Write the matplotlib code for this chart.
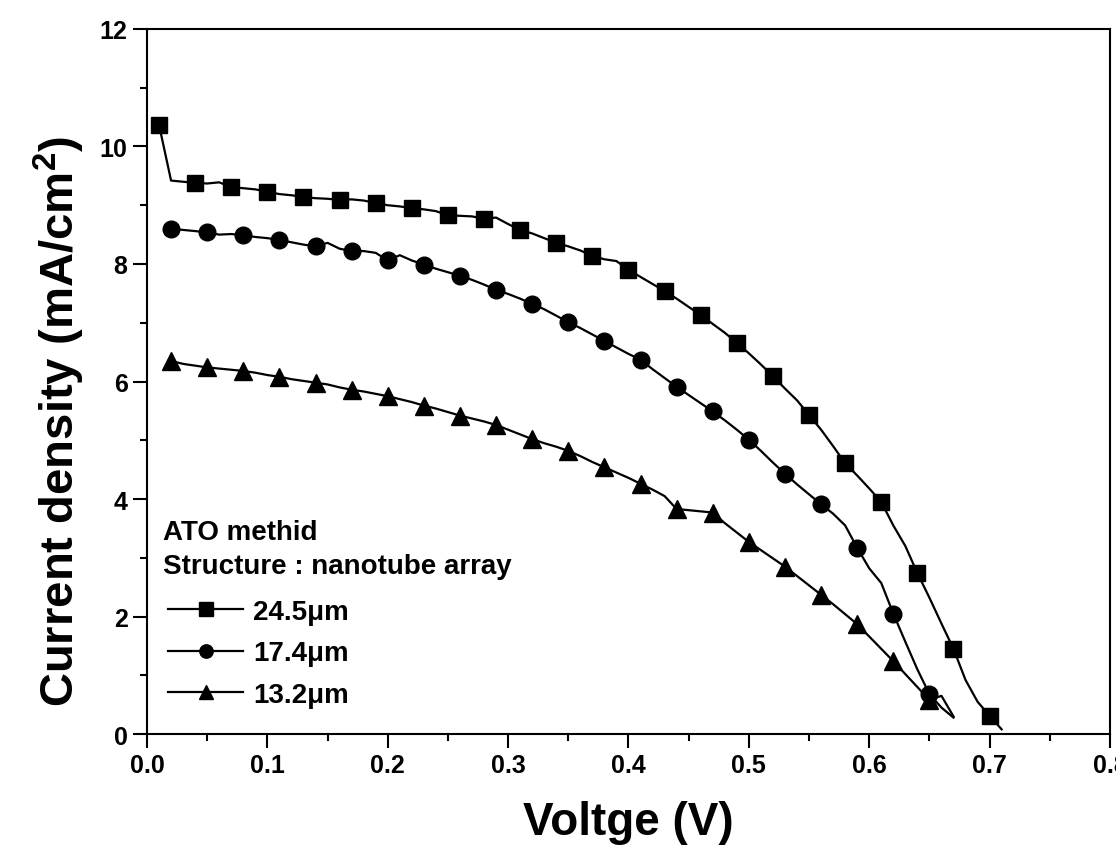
import matplotlib
matplotlib.use("Agg")
import matplotlib.pyplot as plt
from matplotlib.ticker import MultipleLocator, FormatStrFormatter

plt.rcParams['font.family'] = ['Liberation Sans', 'DejaVu Sans']
plt.rcParams['font.weight'] = 'bold'
plt.rcParams['mathtext.fontset'] = 'custom'
plt.rcParams['mathtext.rm'] = 'Liberation Sans:bold'
plt.rcParams['mathtext.bf'] = 'Liberation Sans:bold'
plt.rcParams['mathtext.default'] = 'bf'

# 24.5 um series (0.01 V step)
V_a = [0.01, 0.02, 0.03, 0.04, 0.05, 0.06, 0.07, 0.08, 0.09, 0.10,
       0.11, 0.12, 0.13, 0.14, 0.15, 0.16, 0.17, 0.18, 0.19, 0.20,
       0.21, 0.22, 0.23, 0.24, 0.25, 0.26, 0.27, 0.28, 0.29, 0.30,
       0.31, 0.32, 0.33, 0.34, 0.35, 0.36, 0.37, 0.38, 0.39, 0.40,
       0.41, 0.42, 0.43, 0.44, 0.45, 0.46, 0.47, 0.48, 0.49, 0.50,
       0.51, 0.52, 0.53, 0.54, 0.55, 0.56, 0.57, 0.58, 0.59, 0.60,
       0.61, 0.62, 0.63, 0.64, 0.65, 0.66, 0.67, 0.68, 0.69, 0.70, 0.71]
J_a = [10.37, 9.42, 9.40, 9.38, 9.37, 9.39, 9.31, 9.29, 9.27, 9.23,
       9.19, 9.17, 9.14, 9.12, 9.11, 9.09, 9.10, 9.08, 9.04, 9.00,
       8.98, 8.95, 8.93, 8.90, 8.83, 8.82, 8.81, 8.77, 8.79, 8.68,
       8.58, 8.52, 8.44, 8.36, 8.30, 8.23, 8.14, 8.08, 8.05, 7.90,
       7.78, 7.66, 7.54, 7.41, 7.27, 7.13, 6.98, 6.83, 6.66, 6.48,
       6.29, 6.09, 5.88, 5.68, 5.43, 5.18, 4.90, 4.61, 4.40, 4.18,
       3.95, 3.55, 3.20, 2.74, 2.32, 1.88, 1.45, 0.92, 0.55, 0.31, 0.08]

# 17.4 um series
V_b = [0.02, 0.03, 0.04, 0.05, 0.06, 0.07, 0.08, 0.09, 0.10,
       0.11, 0.12, 0.13, 0.14, 0.15, 0.16, 0.17, 0.18, 0.19, 0.20,
       0.21, 0.22, 0.23, 0.24, 0.25, 0.26, 0.27, 0.28, 0.29, 0.30,
       0.31, 0.32, 0.33, 0.34, 0.35, 0.36, 0.37, 0.38, 0.39, 0.40,
       0.41, 0.42, 0.43, 0.44, 0.45, 0.46, 0.47, 0.48, 0.49, 0.50,
       0.51, 0.52, 0.53, 0.54, 0.55, 0.56, 0.57, 0.58, 0.59, 0.60,
       0.61, 0.62, 0.63, 0.64, 0.65, 0.66, 0.67]
J_b = [8.60, 8.58, 8.56, 8.54, 8.50, 8.51, 8.49, 8.46, 8.44,
       8.41, 8.37, 8.33, 8.30, 8.36, 8.26, 8.22, 8.22, 8.19, 8.06,
       8.15, 8.06, 7.99, 7.92, 7.86, 7.80, 7.73, 7.65, 7.56, 7.49,
       7.41, 7.32, 7.23, 7.12, 7.01, 6.91, 6.80, 6.69, 6.58, 6.47,
       6.37, 6.21, 6.06, 5.91, 5.77, 5.63, 5.49, 5.34, 5.18, 5.01,
       4.82, 4.62, 4.43, 4.25, 4.08, 3.91, 3.75, 3.55, 3.17, 2.82,
       2.57, 2.05, 1.57, 1.10, 0.68, 0.45, 0.28]

# 13.2 um series
V_c = V_b
J_c = [6.35, 6.30, 6.27, 6.24, 6.22, 6.20, 6.18, 6.15, 6.11,
       6.08, 6.04, 6.01, 5.98, 5.95, 5.90, 5.86, 5.83, 5.79, 5.75,
       5.70, 5.65, 5.59, 5.54, 5.48, 5.42, 5.37, 5.32, 5.26, 5.18,
       5.10, 5.02, 4.95, 4.89, 4.82, 4.73, 4.63, 4.54, 4.45, 4.36,
       4.26, 4.16, 4.05, 3.83, 3.81, 3.79, 3.77, 3.59, 3.43, 3.27,
       3.13, 2.99, 2.85, 2.69, 2.53, 2.37, 2.21, 2.04, 1.87, 1.66,
       1.45, 1.24, 1.02, 0.80, 0.58, 0.65, 0.30]

labels = ["24.5\u03bcm", "17.4\u03bcm", "13.2\u03bcm"]
markers = ["s", "o", "^"]

fig = plt.figure(figsize=(11.16, 8.54), dpi=100)
ax = fig.add_axes([0.1317, 0.1393, 0.8629, 0.8256])

series = [(V_a, J_a), (V_b, J_b), (V_c, J_c)]
handles = []
for (v, j), lab, mk in zip(series, labels, markers):
    ln, = ax.plot(v, j, color='black', lw=1.6, marker=mk,
                  markersize=12 if mk != '^' else 13,
                  markevery=range(0, len(v), 3), label=lab)
    handles.append(ln)

ax.set_xlim(0, 0.8)
ax.set_ylim(0, 12)
ax.xaxis.set_major_locator(MultipleLocator(0.1))
ax.xaxis.set_minor_locator(MultipleLocator(0.05))
ax.yaxis.set_major_locator(MultipleLocator(2))
ax.yaxis.set_minor_locator(MultipleLocator(1))
ax.xaxis.set_major_formatter(FormatStrFormatter('%.1f'))
ax.yaxis.set_major_formatter(FormatStrFormatter('%d'))
ax.tick_params(which='major', direction='out', length=10, width=1.5, labelsize=18, pad=4)
ax.tick_params(which='minor', direction='out', length=5, width=1.5)
for s in ax.spines.values():
    s.set_linewidth(1.5)

ax.set_xlabel("Voltge (V)", fontsize=33, fontweight='bold', labelpad=16)
ax.set_ylabel("Current density (mA/cm$^{2}$)", fontsize=34, fontweight='bold')
ax.yaxis.set_label_coords(-0.062, 0.445)

ax.text(0.017, 0.287, "ATO methid", transform=ax.transAxes, fontsize=20, fontweight='bold',
        va='center', ha='left')
ax.text(0.017, 0.238, "Structure : nanotube array", transform=ax.transAxes, fontsize=20,
        fontweight='bold', va='center', ha='left')

leg = ax.legend(handles=handles, loc='upper left', bbox_to_anchor=(0.0104, 0.207),
                frameon=False, fontsize=20, handlelength=2.7, handletextpad=0.36,
                labelspacing=0.55, markerscale=0.8, borderaxespad=0)

fig.savefig("out.png", dpi=100)
